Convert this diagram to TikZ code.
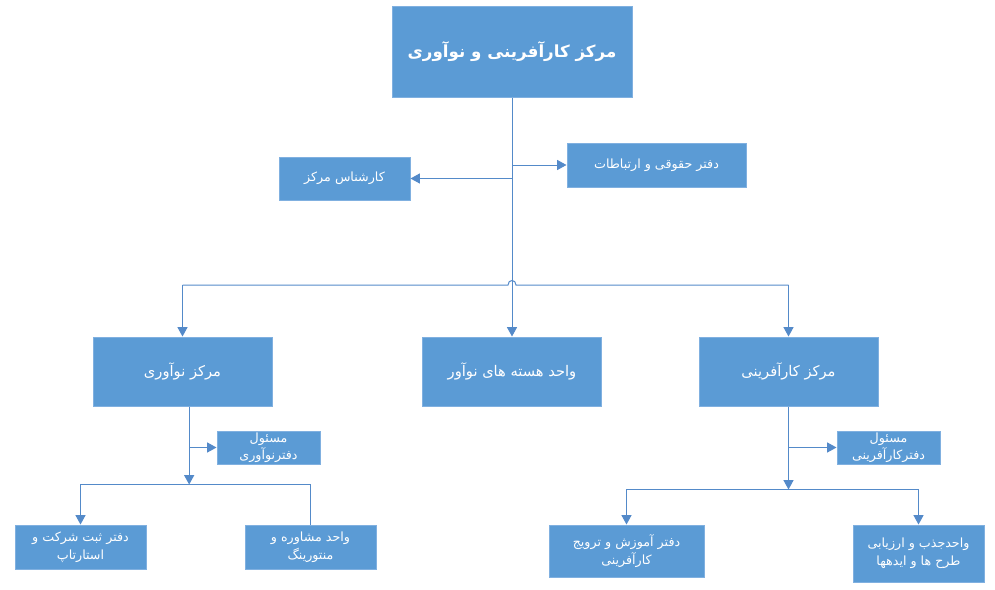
\documentclass[tikz,border=0pt]{standalone}
\usepackage{fontspec}
\newfontfamily\farsi[Script=Arabic]{DejaVu Sans}
\TeXXeTstate=1
\usetikzlibrary{arrows.meta}
\definecolor{boxblue}{RGB}{91,155,213}
\definecolor{edgeblue}{RGB}{128,176,224}
\definecolor{lineblue}{RGB}{84,138,201}
\newcommand{\farsiline}[1]{\beginR #1\endR}

\tikzset{every picture/.style={line width=0.75pt}}
\tikzset{
  unitbox/.style={draw=edgeblue, fill=boxblue, text=white, inner sep=0pt, align=center, font=\farsi\fontsize{9.5}{13.5}\selectfont},
  topbox/.style={unitbox, minimum width=180pt, minimum height=68.25pt, font=\farsi\bfseries\fontsize{12.5}{15}\selectfont},
  mainbox/.style={unitbox, minimum width=134.25pt, minimum height=51.75pt, font=\farsi\fontsize{11}{13}\selectfont},
  headbox/.style={unitbox, minimum width=77.25pt, minimum height=24.75pt, font=\farsi\fontsize{9.5}{13}\selectfont},
  link/.style={draw=lineblue, -{Triangle[width=7.5pt,length=7pt]}},
  plain/.style={draw=lineblue}
}

\begin{document}
\begin{tikzpicture}[x=0.75pt,y=0.75pt,yscale=-1,xscale=1]
\useasboundingbox (0,0) rectangle (995,589);

%Shape: Rectangle [top]
\node[topbox] (center) at (512,51.5) {\farsiline{مرکز کارآفرینی و نوآوری}};
%Shape: Rectangle [staff]
\node[unitbox, minimum width=98.25pt, minimum height=32.25pt] (expert) at (344.5,178.5) {\farsiline{کارشناس مرکز}};
\node[unitbox, minimum width=134.25pt, minimum height=33pt] (legal) at (656.5,165) {\farsiline{دفتر حقوقی و ارتباطات}};

%Shape: Rectangle [centres]
\node[mainbox] (innov) at (182.5,371.5) {\farsiline{مرکز نوآوری}};
\node[mainbox] (core) at (512,371.5) {\farsiline{واحد هسته های نوآور}};
\node[mainbox] (entre) at (788.5,371.5) {\farsiline{مرکز کارآفرینی}};

%Shape: Rectangle [heads]
\node[headbox] (innovhead) at (268.5,447.5) {\farsiline{مسئول}\\\farsiline{دفترنوآوری}};
\node[headbox] (entrehead) at (888.5,447.5) {\farsiline{مسئول}\\\farsiline{دفترکارآفرینی}};

%Shape: Rectangle [offices]
\node[unitbox, minimum width=98.25pt, minimum height=33pt] (register) at (80.5,547) {\farsiline{دفتر ثبت شرکت و}\\\farsiline{استارتاپ}};
\node[unitbox, minimum width=98.25pt, minimum height=33pt] (mentor) at (310.5,547) {\farsiline{واحد مشاوره و}\\\farsiline{منتورینگ}};
\node[unitbox, minimum width=116.25pt, minimum height=39pt] (training) at (626.5,551) {\farsiline{دفتر آموزش و ترویج}\\\farsiline{کارآفرینی}};
\node[unitbox, minimum width=98.25pt, minimum height=42.75pt] (attract) at (918.5,553.5) {\farsiline{واحدجذب و ارزیابی}\\\farsiline{طرح ها و ایدهها}};

%Coordinates
\coordinate (bus) at (512,285);
\coordinate (innovstem) at ([xshift=5pt]innov.south);
\coordinate (innovbus) at ([yshift=58.5pt]innovstem);
\coordinate (entrebus) at ([yshift=62.25pt]entre.south);

%Straight Lines [bus]
\draw[plain] (innov.north |- bus) -- ([xshift=-3pt]bus) .. controls +(0,-6) and +(0,-6) .. ([xshift=3pt]bus) -- (entre.north |- bus);
\draw[link] (innov.north |- bus) -- (innov.north);
\draw[link] (entre.north |- bus) -- (entre.north);
%Straight Lines [trunk]
\draw[link] (center.south) -- (core.north);
\draw[link] (center.south |- expert.east) -- (expert.east);
\draw[link] (center.south |- legal.west) -- (legal.west);

%Straight Lines [innovation]
\draw[link] (innovstem) -- (innovbus);
\draw[link] (innovstem |- innovhead.west) -- (innovhead.west);
\draw[link] (innovbus) -| (register.north);
\draw[plain] (innovbus) -| (mentor.north);

%Straight Lines [entrepreneurship]
\draw[link] (entre.south) -- (entrebus);
\draw[link] (entre.south |- entrehead.west) -- (entrehead.west);
\draw[link] (entrebus) -| (training.north);
\draw[link] (entrebus) -| (attract.north);

\end{tikzpicture}
\end{document}
